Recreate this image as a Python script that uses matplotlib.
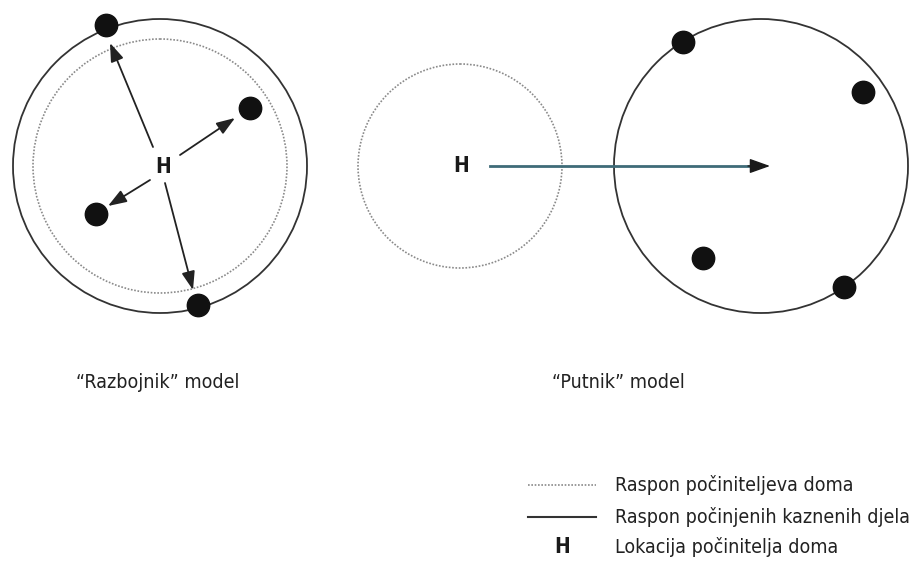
import matplotlib.pyplot as plt
from matplotlib.patches import Circle

plt.rcParams['font.family'] = ['DejaVu Sans']
plt.rcParams['font.stretch'] = 'condensed'

# left "Razbojnik" model: home range and offence range share a centre
left_centre = (160, 166)
left_home_r = 127
left_crime_r = 147
left_h = (163, 167)
left_dots_x = [106, 250, 96, 198]
left_dots_y = [25, 108, 214, 305]
left_arrow_from = [(153, 147), (180, 155), (150, 180), (165, 183)]
left_arrow_to = [(110, 43), (235, 118), (108, 206), (193, 290)]

# right "Putnik" model: home range and offence range apart
home_centre = (460, 166)
home_r = 102
crime_centre = (761, 166)
crime_r = 147
right_h = (461, 166)
right_dots_x = [683, 863, 703, 844]
right_dots_y = [42, 92, 258, 287]

model_labels = ['\u201cRazbojnik\u201d model', '\u201cPutnik\u201d model']
legend_labels = ['Raspon počiniteljeva doma',
                 'Raspon počinjenih kaznenih djela',
                 'Lokacija počinitelja doma']

fig = plt.figure(figsize=(9.11, 5.67), dpi=100)
ax = fig.add_axes([0, 0, 1, 1])
ax.set_xlim(0, 911)
ax.set_ylim(567, 0)
ax.set_aspect('equal')
ax.axis('off')

dotted = dict(fill=False, edgecolor='#8a8a8a', linewidth=1.2, linestyle=(0, (1, 1)))
solid = dict(fill=False, edgecolor='#333333', linewidth=1.3)
head = '-|>,head_length=0.7,head_width=0.25'

# left model
ax.add_patch(Circle(left_centre, left_home_r, **dotted))
ax.add_patch(Circle(left_centre, left_crime_r, **solid))
for a, b in zip(left_arrow_from, left_arrow_to):
    ax.annotate('', xy=b, xytext=a,
                arrowprops=dict(arrowstyle=head, color='#222222',
                                lw=1.3, mutation_scale=16, shrinkA=0, shrinkB=0))
ax.scatter(left_dots_x, left_dots_y, s=260, color='#111111', zorder=5)
ax.text(left_h[0], left_h[1], 'H', fontsize=15, fontweight='bold', ha='center', va='center', color='#1a1a1a')

# right model
ax.add_patch(Circle(home_centre, home_r, **dotted))
ax.add_patch(Circle(crime_centre, crime_r, **solid))
ax.plot([490, 752], [166, 166], color='#3f6b78', lw=2)
ax.annotate('', xy=(770, 166), xytext=(748, 166),
            arrowprops=dict(arrowstyle=head, color='#1a1a1a',
                            lw=1, mutation_scale=18, shrinkA=0, shrinkB=0))
ax.scatter(right_dots_x, right_dots_y, s=260, color='#111111', zorder=5)
ax.text(right_h[0], right_h[1], 'H', fontsize=15, fontweight='bold', ha='center', va='center', color='#1a1a1a')

# model captions
ax.text(158, 383, model_labels[0], fontsize=14, ha='center', va='center', color='#222222')
ax.text(618, 383, model_labels[1], fontsize=14, ha='center', va='center', color='#222222')

# legend
ax.plot([528, 596], [485, 485], color='#8a8a8a', lw=1.2, linestyle=(0, (1, 1)))
ax.plot([528, 596], [517, 517], color='#333333', lw=1.5)
ax.text(562, 547, 'H', fontsize=15, fontweight='bold', ha='center', va='center', color='#1a1a1a')
for lbl, y in zip(legend_labels, [485, 517, 547]):
    ax.text(615, y, lbl, fontsize=14, ha='left', va='center', color='#222222')

fig.savefig('out.png', dpi=100)
